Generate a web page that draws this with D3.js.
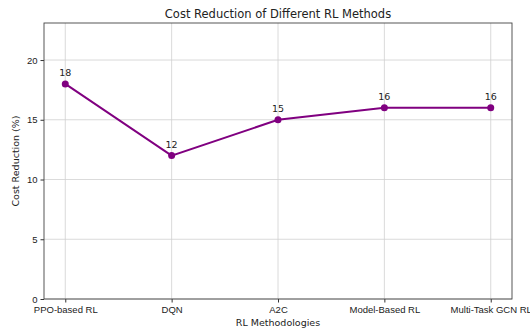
<!DOCTYPE html>
<html>
<head>
<meta charset="utf-8">
<script src="https://cdn.jsdelivr.net/npm/d3@7"></script>
<style>
  html, body { margin: 0; padding: 0; background: #fff; }
  svg { display: block; font-family: "DejaVu Sans", sans-serif; }
  .axis path, .axis line { stroke: #333; }
  .axis text { fill: #222; font-size: 9.5px; }
</style>
</head>
<body>
<div id="chart"></div>
<script>
const methods = ['PPO-based RL', 'DQN', 'A2C', 'Model-Based RL', 'Multi-Task GCN RL'];
const costReduction = [18, 12, 15, 16, 16];
const yTicks = [0, 5, 10, 15, 20];

(function drawChart() {
  const width = 530, height = 331;
  const margin = { top: 23, right: 18, bottom: 32, left: 44 };
  const innerWidth = width - margin.left - margin.right;
  const innerHeight = height - margin.top - margin.bottom;

  const svg = d3.select('#chart').append('svg')
    .attr('width', width)
    .attr('height', height);

  const g = svg.append('g')
    .attr('transform', `translate(${margin.left},${margin.top})`);

  // matplotlib style 5% margins on a categorical axis
  const x = d3.scaleLinear()
    .domain([-0.2, methods.length - 1 + 0.2])
    .range([0, innerWidth]);

  const y = d3.scaleLinear()
    .domain([0, 23.1])
    .range([innerHeight, 0]);

  // grid
  g.append('g').selectAll('line.vgrid')
    .data(methods).join('line')
    .attr('x1', (d, i) => x(i)).attr('x2', (d, i) => x(i))
    .attr('y1', 0).attr('y2', innerHeight)
    .attr('stroke', '#d0d0d0').attr('stroke-width', 0.8);

  g.append('g').selectAll('line.hgrid')
    .data(yTicks).join('line')
    .attr('x1', 0).attr('x2', innerWidth)
    .attr('y1', d => y(d)).attr('y2', d => y(d))
    .attr('stroke', '#d0d0d0').attr('stroke-width', 0.8);

  // axes
  g.append('g').attr('class', 'axis')
    .attr('transform', `translate(0,${innerHeight})`)
    .call(d3.axisBottom(x).tickValues(d3.range(methods.length))
      .tickFormat(i => methods[i]).tickSize(3.5).tickPadding(3.5))
    .call(a => a.select('.domain').remove());

  g.append('g').attr('class', 'axis')
    .call(d3.axisLeft(y).tickValues(yTicks).tickSize(3.5).tickPadding(3))
    .call(a => a.select('.domain').remove());

  // frame
  g.append('rect')
    .attr('width', innerWidth).attr('height', innerHeight)
    .attr('fill', 'none').attr('stroke', '#444').attr('stroke-width', 0.9);

  // line + markers
  const line = d3.line()
    .x((d, i) => x(i))
    .y(d => y(d));

  g.append('path')
    .datum(costReduction)
    .attr('fill', 'none')
    .attr('stroke', '#800080')
    .attr('stroke-width', 2)
    .attr('d', line);

  g.append('g').selectAll('circle')
    .data(costReduction).join('circle')
    .attr('cx', (d, i) => x(i))
    .attr('cy', d => y(d))
    .attr('r', 3.5)
    .attr('fill', '#800080');

  g.append('g').selectAll('text')
    .data(costReduction).join('text')
    .attr('x', (d, i) => x(i))
    .attr('y', d => y(d) - 8)
    .attr('text-anchor', 'middle')
    .attr('font-size', 9.5)
    .attr('fill', '#222')
    .text(d => d);

  // titles
  svg.append('text')
    .attr('x', margin.left + innerWidth / 2)
    .attr('y', 18)
    .attr('text-anchor', 'middle')
    .attr('font-size', 11.5)
    .attr('fill', '#222')
    .text('Cost Reduction of Different RL Methods');

  svg.append('text')
    .attr('x', margin.left + innerWidth / 2)
    .attr('y', 326)
    .attr('text-anchor', 'middle')
    .attr('font-size', 9.5)
    .attr('fill', '#222')
    .text('RL Methodologies');

  svg.append('text')
    .attr('transform', `translate(19,${margin.top + innerHeight / 2}) rotate(-90)`)
    .attr('text-anchor', 'middle')
    .attr('font-size', 9.5)
    .attr('fill', '#222')
    .text('Cost Reduction (%)');
})();
</script>
</body>
</html>
